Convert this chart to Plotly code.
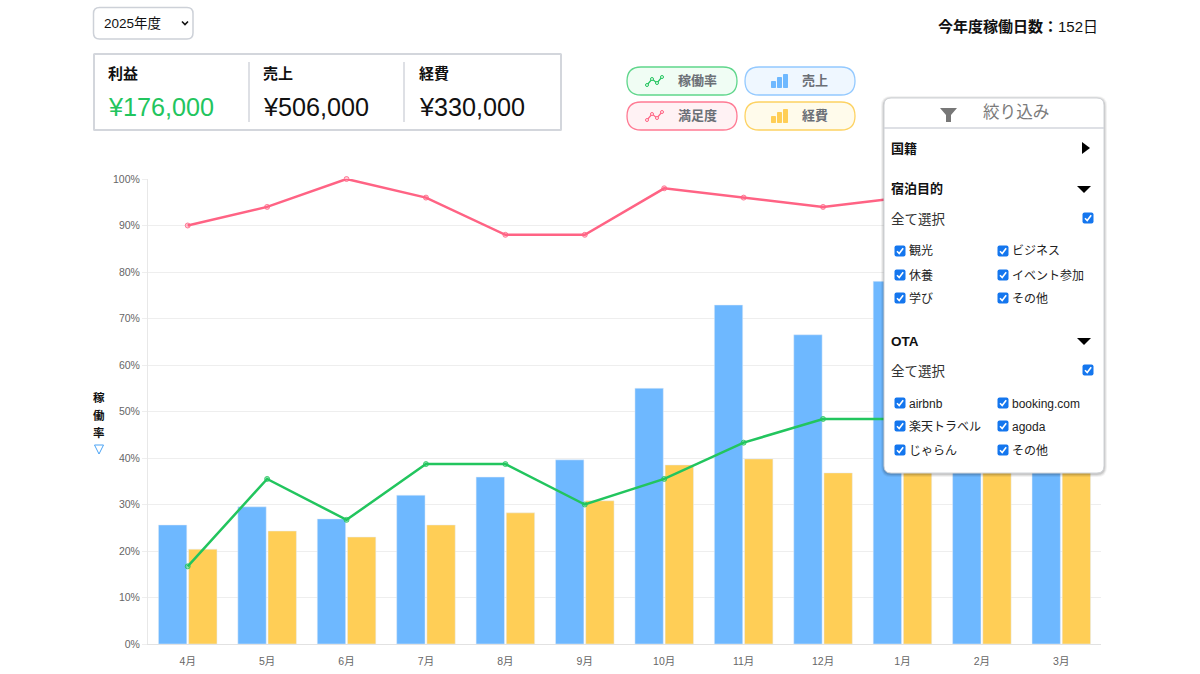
import plotly.graph_objects as go

W = 1200
H = 674
FONT = "Liberation Sans, Noto Sans CJK JP, sans-serif"

months = ['4月', '5月', '6月', '7月', '8月', '9月', '10月', '11月', '12月', '1月', '2月', '3月']
sales = [25.6, 29.5, 26.9, 32.0, 35.9, 39.6, 55.0, 72.9, 66.5, 78.0, 62.0, 70.0]
costs = [20.4, 24.3, 23.0, 25.6, 28.2, 30.8, 38.5, 39.8, 36.8, 40.0, 41.0, 42.0]
occupancy = [16.7, 35.5, 26.7, 38.7, 38.7, 30.0, 35.5, 43.3, 48.4, 48.4, 50.0, 52.0]
satisfaction = [90, 94, 100, 96, 88, 88, 98, 96, 94, 96, 95, 96]
y_ticks = [0, 10, 20, 30, 40, 50, 60, 70, 80, 90, 100]
y_tick_labels = ['0%', '10%', '20%', '30%', '40%', '50%', '60%', '70%', '80%', '90%', '100%']

summary_labels = ['利益', '売上', '経費']
summary_values = ['¥176,000', '¥506,000', '¥330,000']
purpose_items = ['観光', 'ビジネス', '休養', 'イベント参加', '学び', 'その他']
ota_items = ['airbnb', 'booking.com', '楽天トラベル', 'agoda', 'じゃらん', 'その他']

BLUE = '#6eb8ff'
YELLOW = '#ffce56'
GREEN = '#22c55e'
PINK = '#ff6384'
CHECK = '#1476ee'


def fx(x):
    return x / W


def fy(y):
    return 1 - y / H


def poly(points, close=True):
    d = 'M ' + ' L '.join(f'{fx(x)} {fy(y)}' for x, y in points)
    return d + ' Z' if close else d


def round_rect(x0, y0, x1, y1, r):
    p = lambda x, y: f'{fx(x)} {fy(y)}'
    return (f'M {p(x0 + r, y0)} L {p(x1 - r, y0)} Q {p(x1, y0)} {p(x1, y0 + r)} '
            f'L {p(x1, y1 - r)} Q {p(x1, y1)} {p(x1 - r, y1)} '
            f'L {p(x0 + r, y1)} Q {p(x0, y1)} {p(x0, y1 - r)} '
            f'L {p(x0, y0 + r)} Q {p(x0, y0)} {p(x0 + r, y0)} Z')


shapes = []
annotations = []


def add_path(path, fill='rgba(0,0,0,0)', line='rgba(0,0,0,0)', width=0):
    shapes.append(dict(type='path', path=path, xref='paper', yref='paper', layer='above',
                       fillcolor=fill, line=dict(color=line, width=width)))


def add_text(x, y, text, size=12, color='#111', anchor='left'):
    annotations.append(dict(x=fx(x), y=fy(y), xref='paper', yref='paper', text=text, showarrow=False,
                            xanchor=anchor, yanchor='middle', borderpad=0, borderwidth=0,
                            font=dict(family=FONT, size=size, color=color)))


def add_checkbox(cx, cy):
    add_path(round_rect(cx - 5.5, cy - 5.5, cx + 5.5, cy + 5.5, 2), fill=CHECK)
    add_path(poly([(cx - 3, cy + 0.3), (cx - 0.8, cy + 2.6), (cx + 3.2, cy - 2.8)], close=False),
             line='white', width=1.6)


# year select
add_path(round_rect(93.5, 7.5, 193, 39, 6), fill='white', line='#cdd1d8', width=1.5)
add_text(104, 23, '2025年度', size=13.5)
add_path(poly([(182, 21.5), (185, 24.5), (188, 21.5)], close=False), line='#111', width=1.6)

# working days
add_text(1098, 27, '<b>今年度稼働日数：</b>152日', size=15, anchor='right')

# summary box
add_path(round_rect(94, 54, 561, 130, 0.5), fill='white', line='#d3d6dc', width=2)
for x in [249, 404]:
    add_path(poly([(x, 62), (x, 122)], close=False), line='#d3d6dc', width=1.5)
for x, label, value, color in zip([108, 263, 419], summary_labels, summary_values, [GREEN, '#111', '#111']):
    add_text(x, 73, f'<b>{label}</b>', size=15)
    add_text(x, 107, value, size=25.2, color=color)

# legend pills
pills = [(627, 67, '稼働率', GREEN, '#f0fdf4', '#5fd68b', 'line'),
         (745, 67, '売上', BLUE, '#eff7ff', '#93c9ff', 'bar'),
         (627, 102, '満足度', PINK, '#fff2f4', '#ff7a93', 'line'),
         (745, 102, '経費', YELLOW, '#fffbeb', '#fdd262', 'bar')]
for x, y, label, color, bg, edge, kind in pills:
    add_path(round_rect(x, y, x + 110, y + 28, 14), fill=bg, line=edge, width=1.3)
    add_text(x + 70, y + 14, f'<b>{label}</b>', size=13, color='#6b6f76', anchor='center')
    if kind == 'line':
        pts = [(x + 20, y + 18), (x + 25, y + 12), (x + 30, y + 16), (x + 35, y + 10)]
        add_path(poly(pts, close=False), line=color, width=1.2)
        for px, py in pts:
            add_path(round_rect(px - 1.5, py - 1.5, px + 1.5, py + 1.5, 1.5), fill=bg, line=color, width=1)
    else:
        for bx, top in [(x + 26, y + 14), (x + 32, y + 10), (x + 38, y + 7)]:
            add_path(round_rect(bx, top, bx + 5, y + 21, 0.7), fill=color)

# y axis title
for y, ch in zip([398, 415, 432], '稼働率'):
    add_text(99, y, f'<b>{ch}</b>', size=11.5, anchor='center')
add_path(poly([(94.5, 445), (103.5, 445), (99, 454)]), fill='white', line='#4aa3f5', width=1)

# filter panel
for grow, alpha in [(3, 0.05), (2, 0.07), (1, 0.10)]:
    add_path(round_rect(884 - grow, 98 - grow + 1, 1104 + grow, 473 + grow + 1, 7 + grow), fill=f'rgba(0,0,0,{alpha})')
add_path(round_rect(884, 98, 1104, 473, 7), fill='white', line='#cfd2d6', width=1)
add_path(poly([(884, 128), (1104, 128)], close=False), line='#d3d6dc', width=1.5)
add_path(poly([(940, 108), (957, 108), (951, 115), (951, 122), (946, 122), (946, 115)]), fill='#777')
add_text(1016, 113, '絞り込み', size=16.6, color='#7b7b7b', anchor='center')

add_text(891, 148, '<b>国籍</b>', size=13)
add_path(poly([(1082, 142), (1090, 148), (1082, 154)]), fill='#000')

add_text(891, 189, '<b>宿泊目的</b>', size=13)
add_path(poly([(1077, 186), (1091, 186), (1084, 193)]), fill='#000')
add_text(891, 219, '全て選択', size=13.5, color='#333')
add_checkbox(1088, 218)

add_text(891, 341, '<b>OTA</b>', size=13.5)
add_path(poly([(1077, 338), (1091, 338), (1084, 345)]), fill='#000')
add_text(891, 371, '全て選択', size=13.5, color='#333')
add_checkbox(1088, 370)

for items, rows in [(purpose_items, [251, 275, 298]), (ota_items, [403, 426, 450])]:
    for i, item in enumerate(items):
        y = rows[i // 2]
        left = i % 2 == 0
        add_checkbox(900 if left else 1003, y)
        add_text(909 if left else 1012, y + 0.5, item, size=12, color='#222')

fig = go.Figure()
fig.add_bar(x=months, y=sales, name='売上', marker_color=BLUE)
fig.add_bar(x=months, y=costs, name='経費', marker_color=YELLOW)
fig.add_scatter(x=months, y=occupancy, name='稼働率', mode='lines+markers', cliponaxis=False,
                line=dict(color=GREEN, width=2.5),
                marker=dict(size=5, color='rgba(34,197,94,0.45)', line=dict(color=GREEN, width=0.8)))
fig.add_scatter(x=months, y=satisfaction, name='満足度', mode='lines+markers', cliponaxis=False,
                line=dict(color=PINK, width=2.5),
                marker=dict(size=5, color='rgba(255,99,132,0.35)', line=dict(color=PINK, width=0.8)))

fig.update_layout(
    width=W, height=H, autosize=False, showlegend=False,
    margin=dict(l=0, r=0, t=0, b=0, pad=0),
    paper_bgcolor='white', plot_bgcolor='white',
    barmode='group', bargap=0.24, bargroupgap=0.06,
    font=dict(family=FONT),
    shapes=shapes, annotations=annotations,
    xaxis=dict(domain=[fx(148), fx(1101)], range=[-0.5, 11.5], automargin=False, showgrid=False, ticks='',
               showline=True, linecolor='#e2e2e2', linewidth=1, tickfont=dict(size=10.5, color='#666'),
               ticklabelstandoff=7),
    yaxis=dict(domain=[fy(644), fy(179)], range=[0, 100], automargin=False, tickvals=y_ticks, ticktext=y_tick_labels,
               showgrid=True, gridcolor='#eeeeee', gridwidth=1, zeroline=False,
               showline=True, linecolor='#e8e8e8', linewidth=1,
               ticks='outside', ticklen=5, tickcolor='#eeeeee', tickfont=dict(size=10.5, color='#666')),
)

fig.write_html("out.html", config=dict(displayModeBar=False), post_script="document.body.style.margin='0'")
